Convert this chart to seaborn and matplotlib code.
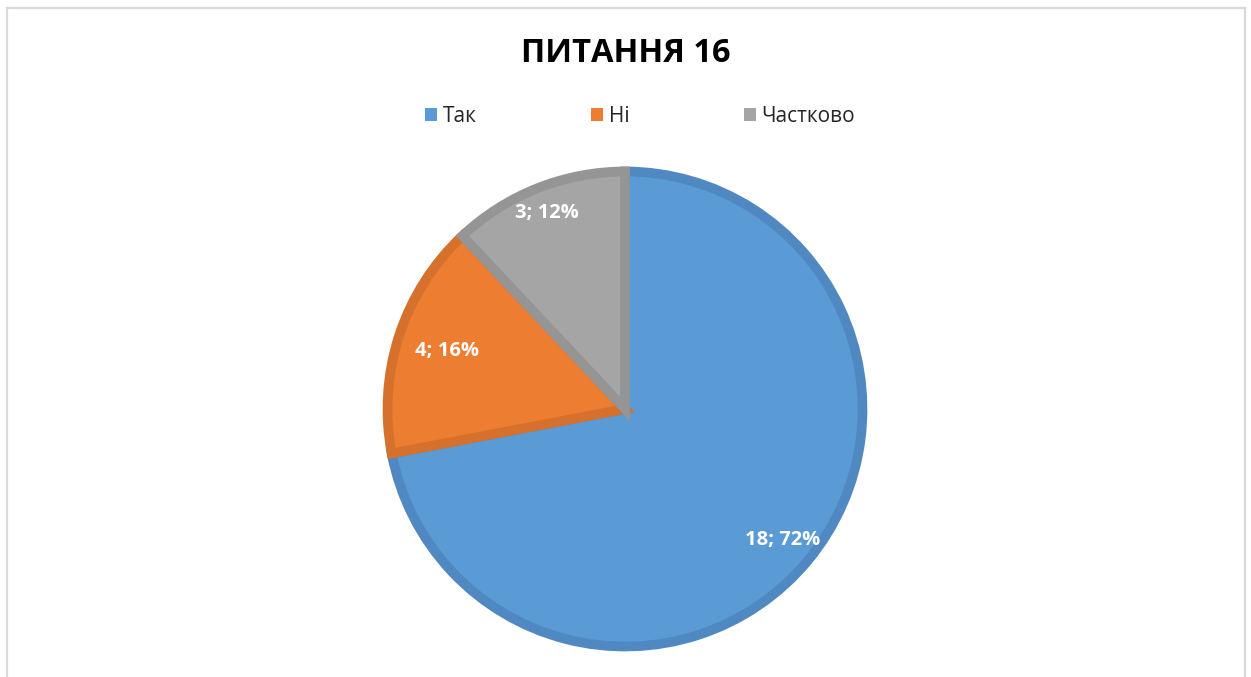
import numpy as np
import matplotlib
matplotlib.use("Agg")
import matplotlib.pyplot as plt
import seaborn as sns
from matplotlib.patches import Rectangle, Patch

# data
CATEGORIES = ['Так', 'Ні', 'Частково']
COUNTS = [18, 4, 3]
TITLE = 'ПИТАННЯ 16'

FILL_COLORS = ['#5B9BD5', '#ED7D31', '#A5A5A5']
EDGE_COLORS = ['#5089C2', '#D6702D', '#959595']
LABEL_RADIUS = [0.82, 0.75, 0.845]

sns.set_theme(style="white")
plt.rcParams['font.family'] = ['Open Sans', 'Noto Sans', 'DejaVu Sans']

W, H = 1251, 677
fig = plt.figure(figsize=(W / 100, H / 100), dpi=100)

# frame round the chart area
fig.patches.append(Rectangle((7 / W, -0.05), (1245 - 7) / W, (677 - 8) / H + 0.05,
                             transform=fig.transFigure, fill=False,
                             edgecolor='#d9d9d9', linewidth=1.6))

cx, cy, half = 625, H - 409, 250
ax = fig.add_axes([(cx - half) / W, (cy - half) / H, 2 * half / W, 2 * half / H])

total = sum(COUNTS)
wedges, _ = ax.pie(COUNTS, colors=FILL_COLORS, startangle=90, counterclock=False,
                   radius=0.95, wedgeprops=dict(linewidth=7))
for w, ec in zip(wedges, EDGE_COLORS):
    w.set_edgecolor(ec)

for w, n, r in zip(wedges, COUNTS, LABEL_RADIUS):
    mid = np.deg2rad((w.theta1 + w.theta2) / 2)
    ax.text(r * np.cos(mid), r * np.sin(mid), f"{n}; {round(n / total * 100)}%",
            ha='center', va='center', color='white', fontsize=14.5, fontweight='bold')

ax.set_xlim(-1, 1)
ax.set_ylim(-1, 1)
ax.set_aspect('equal')
ax.axis('off')

fig.text(626 / W, 1 - 53 / H, TITLE, ha='center', va='center',
         fontsize=23.5, fontweight='bold', color='black')

handles = [Patch(facecolor=c, edgecolor='none') for c in FILL_COLORS]
fig.legend(handles, CATEGORIES, loc='center', bbox_to_anchor=(640 / W, 1 - 116 / H),
           ncol=3, frameon=False, fontsize=15, handlelength=0.6, handleheight=0.6,
           handletextpad=0.25, columnspacing=5.5)

fig.savefig('out.png', dpi=100, facecolor='white')
